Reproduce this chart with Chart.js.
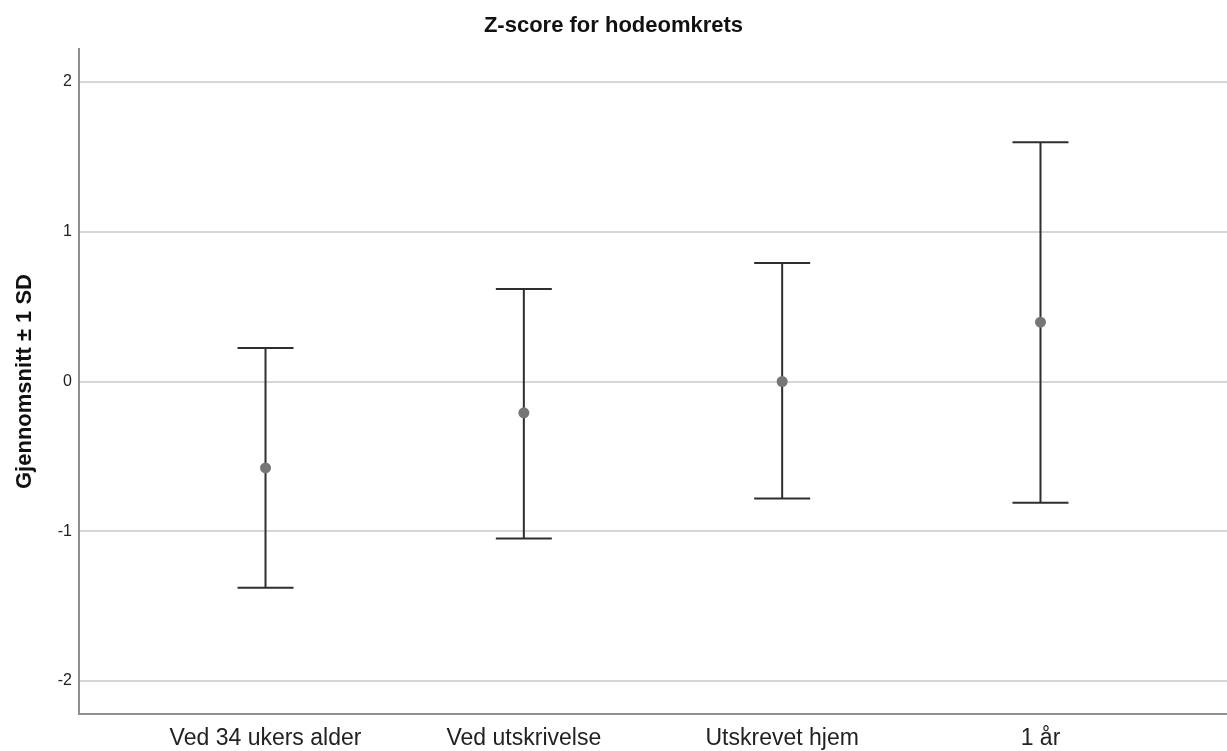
<!DOCTYPE html>
<html>
<head>
<meta charset="utf-8">
<script src="https://cdn.jsdelivr.net/npm/chart.js@4/dist/chart.umd.min.js"></script>
<style>
  html, body { margin: 0; padding: 0; background: #fff; }
  #wrap { width: 1227px; height: 751px; }
</style>
</head>
<body>
<div id="wrap"><canvas id="zChart" width="1227" height="751"></canvas></div>
<script>
const categories = ['Ved 34 ukers alder', 'Ved utskrivelse', 'Utskrevet hjem', '1 år'];
const means = [-0.577, -0.209, 0.0, 0.396];
const lowerSD = [-1.377, -1.049, -0.782, -0.809];
const upperSD = [0.223, 0.618, 0.791, 1.598];
const yTicks = [-2, -1, 0, 1, 2];

const FONT = "'Liberation Sans', Arial, sans-serif";
const barColor = '#2e2e2e';

// whisker lines, broken by null between categories
const whiskers = [];
categories.forEach((c, i) => {
    whiskers.push({ x: i + 1, y: lowerSD[i] });
    whiskers.push({ x: i + 1, y: upperSD[i] });
    whiskers.push({ x: i + 1, y: null });
});
const caps = [];
categories.forEach((c, i) => {
    caps.push({ x: i + 1, y: lowerSD[i] });
    caps.push({ x: i + 1, y: upperSD[i] });
});

new Chart('zChart', {
    type: 'scatter',
    data: {
        datasets: [
            {
                label: 'Gjennomsnitt',
                data: means.map((m, i) => ({ x: i + 1, y: m })),
                pointRadius: 5.5,
                pointBackgroundColor: '#767676',
                pointBorderWidth: 0
            },
            {
                label: 'caps',
                data: caps,
                pointStyle: 'line',
                pointRadius: 28,
                pointBorderColor: barColor,
                pointBorderWidth: 2
            },
            {
                label: 'SD',
                data: whiskers,
                showLine: true,
                spanGaps: false,
                borderColor: barColor,
                borderWidth: 2,
                pointRadius: 0
            }
        ]
    },
    options: {
        responsive: false,
        animation: false,
        layout: { padding: 0, autoPadding: false },
        plugins: {
            legend: { display: false },
            tooltip: { enabled: false },
            title: {
                display: true,
                text: 'Z-score for hodeomkrets',
                color: '#111',
                font: { family: FONT, size: 22, weight: 'bold' },
                padding: { top: 13, bottom: 9.6 }
            }
        },
        scales: {
            x: {
                type: 'linear',
                min: 0.278,
                max: 4.722,
                afterBuildTicks: scale => {
                    scale.ticks = categories.map((c, i) => ({ value: i + 1 }));
                },
                afterFit: scale => {
                    scale.height = 37;
                    scale.paddingLeft = 0;
                    scale.paddingRight = 0;
                },
                ticks: {
                    callback: value => categories[value - 1],
                    color: '#222',
                    font: { family: FONT, size: 23 },
                    padding: 11,
                    maxRotation: 0,
                    autoSkip: false
                },
                grid: { display: false, drawTicks: false },
                border: { display: true, color: '#8f8f8f', width: 2 }
            },
            y: {
                min: -2.22,
                max: 2.22,
                afterBuildTicks: scale => {
                    scale.ticks = yTicks.map(v => ({ value: v }));
                },
                afterFit: scale => { scale.width = 79; },
                ticks: {
                    color: '#222',
                    font: { family: FONT, size: 16 },
                    padding: 7
                },
                grid: { color: '#d6d6d6', lineWidth: 2, drawTicks: false },
                border: { display: true, color: '#8f8f8f', width: 2 },
                title: {
                    display: true,
                    text: 'Gjennomsnitt ± 1 SD',
                    color: '#111',
                    font: { family: FONT, size: 22, weight: 'bold' },
                    padding: { top: 12, bottom: 0 }
                }
            }
        }
    }
});
</script>
</body>
</html>
